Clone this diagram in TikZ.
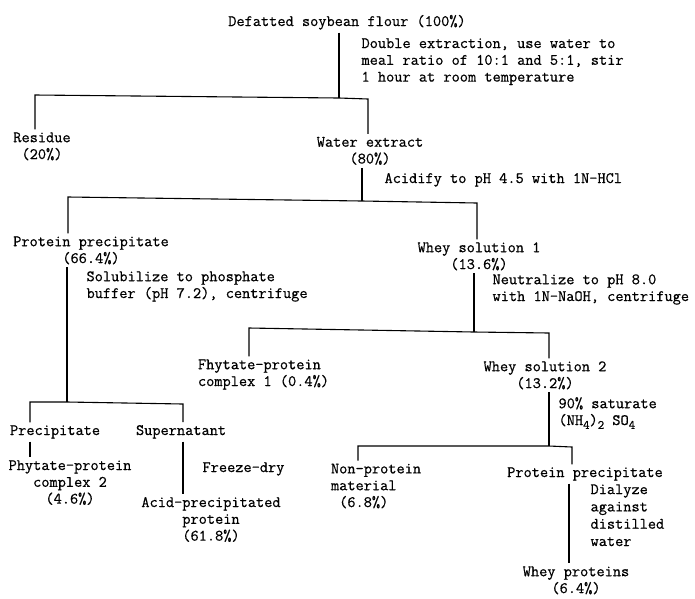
\documentclass[tikz,border=0pt]{standalone}
\usepackage{fontspec}
\setmonofont[FakeBold=0.6]{Latin Modern Mono}
\newcommand{\low}[1]{\raisebox{-0.55ex}{\fontsize{12.5}{12.5}\selectfont #1}}

\begin{document}
\begin{tikzpicture}[x=1pt,y=-1pt,font=\ttfamily\fontsize{15.9}{16.8}\selectfont,line width=1.1pt]
		\tikzstyle{item}=[inner sep=0pt, outer sep=3pt, anchor=base, align=center]
		\tikzstyle{itemleft}=[item, anchor=base west, align=left]
		\tikzstyle{note}=[inner sep=0pt, anchor=base west, align=left]
		\useasboundingbox (0,0) rectangle (695,598);

		\node [item] (flour) at (347,26) {Defatted soybean flour (100\%)};
		\node [note] (n1) at (361,81.6) {Double extraction, use water to\\meal ratio of 10:1 and 5:1, stir\\1 hour at room temperature};
		\node [item] (res) at (42,159) {Residue\\(20\%)};
		\node [item] (wat) at (370,163.5) {Water extract\\(80\%)};
		\node [note] (n2) at (384,183) {Acidify to pH 4.5 with 1N-HCl};
		\node [item] (pp1) at (91,263) {Protein precipitate\\(66.4\%)};
		\node [item] (ws1) at (479,269) {Whey solution 1\\(13.6\%)};
		\node [note] (n3) at (86,298) {Solubilize to phosphate\\buffer (pH 7.2), centrifuge};
		\node [note] (n4) at (492,301) {Neutralize to pH 8.0\\with 1N-NaOH, centrifuge};
		\node [itemleft] (fpc1) at (195,386) {Fhytate-protein\\complex 1 (0.4\%)};
		\node [item] (ws2) at (545,388) {Whey solution 2\\(13.2\%)};
		\node [note] (n5) at (558,425) {90\% saturate\\(NH\low{4})\low{2} SO\low{4}};
		\node [itemleft] (prc) at (7,435) {Precipitate};
		\node [itemleft] (sup) at (133,435) {Supernatant};
		\node [item] (pc2) at (70,503.6) {Phytate-protein\\complex 2\\(4.6\%)};
		\node [note] (n6) at (202,472) {Freeze-dry};
		\node [item] (acid) at (211,540.6) {Acid-precipitated\\protein\\(61.8\%)};
		\node [itemleft] (np) at (328,507) {Non-protein\\material\\~(6.8\%)};
		\node [item] (pp2) at (585,477) {Protein precipitate};
		\node [note, font=\ttfamily\fontsize{15.9}{17.3}\selectfont] (n7) at (590,546) {Dialyze\\against\\distilled\\water};
		\node [item] (wp) at (576,593) {Whey proteins\\(6.4\%)};

		\coordinate (b1l) at (35,95);
		\coordinate (j1) at (339,98);
		\coordinate (b1r) at (368,99);
		\draw (flour.south -| j1) -- (j1);
		\draw (b1l |- res.north) -- (b1l) -- (j1) -- (b1r) -- (b1r |- wat.north);

		\coordinate (b2l) at (68,197);
		\coordinate (j2) at (362,201);
		\coordinate (b2r) at (477,203);
		\draw (wat.south -| j2) -- (j2);
		\draw (b2l |- pp1.north) -- (b2l) -- (j2) -- (b2r) -- (b2r |- ws1.north);

		\coordinate (b3l) at (249,328);
		\coordinate (j3) at (474,332);
		\coordinate (b3r) at (549,333);
		\draw (ws1.south -| j3) -- (j3);
		\draw (b3l |- fpc1.north) -- (b3l) -- (j3) -- (b3r) -- (b3r |- ws2.north);

		\coordinate (b4l) at (358,446);
		\coordinate (j4) at (549,446);
		\coordinate (b4r) at (572,447);
		\draw (ws2.south -| j4) -- (j4);
		\draw (b4l |- np.north) -- (b4l) -- (j4) -- (b4r) -- (b4r |- pp2.north);
		\draw (pp2.south -| 569,0) -- (569,0 |- wp.north);

		\coordinate (b5l) at (30,402);
		\coordinate (j5) at (67,402);
		\coordinate (b5r) at (183,404);
		\draw (pp1.south -| j5) -- (j5);
		\draw (b5l |- prc.north) -- (b5l) -- (j5) -- (b5r) -- (b5r |- sup.north);
		\draw (prc.south -| b5l) -- (b5l |- pc2.north);
		\draw (sup.south -| b5r) -- (b5r |- acid.north);
	\end{tikzpicture}
\end{document}
